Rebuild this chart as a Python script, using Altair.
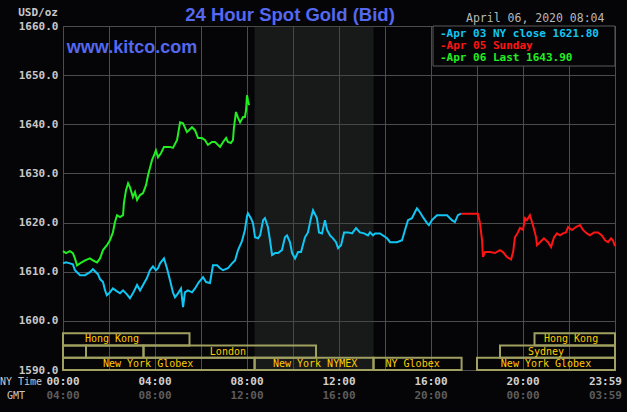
import altair as alt
import pandas as pd

# ---------------- data (hours after 00:00 NY time, USD/oz) ----------------
cyan_h = [0, 0.13, 0.30, 0.43, 0.52, 0.74, 0.96, 1.17, 1.30, 1.52,
          1.61, 1.74, 1.83, 1.91, 2.04, 2.17, 2.35, 2.48, 2.61, 2.78,
          2.91, 3.04, 3.22, 3.35, 3.48, 3.65, 3.78, 3.91, 4.04, 4.13,
          4.22, 4.39, 4.52, 4.65, 4.78, 4.87, 5.00, 5.13, 5.22, 5.30,
          5.43, 5.61, 5.74, 5.91, 6.09, 6.22, 6.39, 6.52, 6.70, 6.83,
          6.96, 7.17, 7.35, 7.48, 7.61, 7.78, 7.91, 8.00, 8.04, 8.17,
          8.26, 8.35, 8.48, 8.57, 8.70, 8.78, 8.91, 9.00, 9.09, 9.22,
          9.35, 9.52, 9.65, 9.74, 9.87, 9.96, 10.09, 10.22, 10.35, 10.52,
          10.65, 10.78, 10.87, 11.04, 11.13, 11.26, 11.39, 11.48, 11.61, 11.74,
          11.87, 11.96, 12.09, 12.22, 12.39, 12.57, 12.74, 12.91, 13.09, 13.26,
          13.35, 13.48, 13.57, 13.78, 14.09, 14.22, 14.52, 14.74, 14.87, 15.00,
          15.17, 15.30, 15.39, 15.52, 15.65, 15.83, 15.91, 16.04, 16.26, 16.48,
          16.70, 16.91, 17.04, 17.17, 17.30]
cyan_p = [1611.7, 1611.9, 1611.7, 1611.5, 1610.3, 1609.3, 1609.3, 1609.9, 1610.5, 1609.5,
          1608.5, 1607.9, 1606.2, 1605.2, 1605.8, 1606.6, 1606.0, 1605.6, 1606.2, 1605.4,
          1604.6, 1605.6, 1607.3, 1606.2, 1607.3, 1608.7, 1610.3, 1611.1, 1610.3, 1610.7,
          1611.7, 1612.7, 1610.7, 1608.3, 1605.8, 1604.8, 1605.6, 1606.6, 1602.8, 1605.8,
          1606.2, 1605.8, 1606.6, 1607.9, 1608.9, 1607.9, 1607.7, 1611.3, 1611.3, 1610.7,
          1610.3, 1610.7, 1611.7, 1612.3, 1614.4, 1616.2, 1618.5, 1621.3, 1621.9, 1620.9,
          1619.9, 1617.0, 1616.8, 1617.4, 1620.5, 1620.9, 1619.1, 1616.4, 1613.4, 1613.8,
          1613.8, 1614.4, 1617.0, 1617.4, 1616.0, 1613.8, 1612.7, 1614.0, 1614.0, 1617.0,
          1618.0, 1620.9, 1622.5, 1620.9, 1618.0, 1617.8, 1620.5, 1618.5, 1617.4, 1616.8,
          1616.0, 1614.8, 1615.4, 1618.0, 1618.0, 1617.8, 1618.9, 1618.0, 1617.8, 1617.4,
          1618.0, 1617.4, 1617.8, 1617.8, 1616.8, 1616.0, 1616.0, 1616.4, 1618.5, 1620.5,
          1620.9, 1622.1, 1622.9, 1622.1, 1621.1, 1619.9, 1619.5, 1620.5, 1621.5, 1621.5,
          1621.5, 1620.5, 1620.1, 1621.5, 1621.8]

red_h = [17.30, 18.04, 18.13, 18.22, 18.26, 18.35, 18.57, 18.78, 19.00, 19.13,
         19.30, 19.48, 19.57, 19.65, 19.78, 19.87, 20.00, 20.09, 20.17, 20.30,
         20.43, 20.57, 20.61, 20.74, 20.91, 21.09, 21.22, 21.35, 21.48, 21.61,
         21.74, 21.87, 21.96, 22.13, 22.30, 22.48, 22.61, 22.78, 22.91, 23.09,
         23.26, 23.43, 23.57, 23.70, 23.83, 23.91, 24.00]
red_p = [1621.8, 1621.8, 1619.9, 1616.4, 1613.0, 1614.0, 1614.0, 1613.8, 1614.4, 1614.0,
         1613.0, 1612.5, 1614.0, 1617.0, 1618.0, 1618.9, 1618.5, 1620.9, 1620.5, 1621.5,
         1619.5, 1617.0, 1615.4, 1616.0, 1616.8, 1616.0, 1615.0, 1617.0, 1617.8, 1617.4,
         1617.8, 1618.0, 1619.1, 1618.5, 1619.1, 1619.5, 1618.5, 1617.8, 1617.4, 1618.0,
         1618.0, 1617.4, 1616.4, 1616.0, 1616.8, 1616.4, 1615.2]

green_h = [0, 0.13, 0.30, 0.43, 0.52, 0.61, 0.74, 0.96, 1.17, 1.30,
           1.48, 1.61, 1.74, 1.91, 2.04, 2.17, 2.26, 2.35, 2.48, 2.61,
           2.65, 2.74, 2.83, 2.91, 3.04, 3.13, 3.22, 3.35, 3.48, 3.61,
           3.70, 3.78, 3.87, 3.96, 4.04, 4.13, 4.26, 4.39, 4.65, 4.78,
           4.96, 5.09, 5.22, 5.39, 5.61, 5.74, 5.87, 6.04, 6.17, 6.30,
           6.48, 6.61, 6.83, 6.96, 7.09, 7.17, 7.30, 7.39, 7.43, 7.52,
           7.61, 7.70, 7.83, 7.91, 7.96, 8.00, 8.04, 8.09]
green_p = [1614.2, 1613.8, 1614.2, 1613.8, 1612.7, 1611.3, 1611.7, 1612.3, 1612.7, 1612.3,
           1611.9, 1612.7, 1614.4, 1615.4, 1616.4, 1618.0, 1620.1, 1621.5, 1621.1, 1621.5,
           1624.0, 1626.6, 1628.0, 1627.2, 1625.2, 1626.2, 1624.6, 1625.6, 1626.0, 1627.6,
           1629.7, 1631.1, 1632.7, 1633.7, 1634.7, 1633.3, 1634.1, 1635.4, 1635.4, 1635.2,
           1636.8, 1640.4, 1640.2, 1638.4, 1639.4, 1638.8, 1637.2, 1637.2, 1636.8, 1635.8,
           1636.4, 1636.4, 1635.4, 1636.4, 1637.2, 1636.4, 1636.2, 1636.8, 1639.2, 1642.5,
           1641.3, 1640.4, 1641.5, 1641.5, 1642.9, 1645.9, 1644.9, 1643.9]

series_names = ["Apr 03 NY close", "Apr 05 Sunday", "Apr 06 Last"]
series_colors = ["#12C6F4", "#FF1414", "#22EE22"]
legend_texts = ["-Apr 03 NY close 1621.80", "-Apr 05 Sunday", "-Apr 06 Last 1643.90"]

# trading sessions (hours, NY time)
band_start = [0, 20.5, 0, 1.0, 3.5, 19.0, 0, 8.33, 13.5, 18.0]
band_end = [5.5, 24, 1.0, 3.5, 11.0, 24, 8.33, 13.5, 17.33, 24]
band_row = [1, 1, 2, 2, 2, 2, 3, 3, 3, 3]
band_label = ["Hong Kong", "Hong Kong", "", "", "London", "Sydney",
              "New York Globex", "New York NYMEX", "NY Globex", "New York Globex"]
band_label_h = [2.13, 22.09, 0.5, 2.25, 7.17, 21.0, 3.7, 10.96, 15.2, 21.0]
row_top = {1: 1597.5, 2: 1595.0, 3: 1592.5}
row_bottom = {1: 1595.0, 2: 1592.5, 3: 1590.0}

shade_start, shade_end = 8.33, 13.5

tick_h = [0, 4, 8, 12, 16, 20]
ny_labels = ["00:00", "04:00", "08:00", "12:00", "16:00", "20:00"]
gmt_labels = ["04:00", "08:00", "12:00", "16:00", "20:00", "00:00"]
last_h = [24]
last_ny = ["23:59"]
last_gmt = ["03:59"]

y_values = [1590, 1600, 1610, 1620, 1630, 1640, 1650, 1660]
x_grid = list(range(0, 25, 2))

# ---------------- build ----------------
MONO = "DejaVu Sans Mono"
SANS = "Liberation Sans"
xs = alt.Scale(domain=[0, 24], nice=False, zero=False)
ys = alt.Scale(domain=[1590, 1660], nice=False, zero=False)
XAX = alt.Axis(values=x_grid, grid=True, gridColor="#4C4C4C", labels=False, ticks=False,
               domain=False, title=None)
YAX = alt.Axis(values=y_values, format=".1f", grid=True, gridColor="#4C4C4C",
               ticks=False, domain=False, title=None, labelPadding=5,
               labelFont=MONO, labelFontSize=11, labelFontWeight="bold", labelColor="#C8C8C8")


def X(f):
    return alt.X(f, scale=xs, axis=XAX)


def Y(f):
    return alt.Y(f, scale=ys, axis=YAX)


lines_df = pd.concat([
    pd.DataFrame({"h": cyan_h, "price": cyan_p, "series": series_names[0], "o": 0}),
    pd.DataFrame({"h": red_h, "price": red_p, "series": series_names[1], "o": 1}),
    pd.DataFrame({"h": green_h, "price": green_p, "series": series_names[2], "o": 2}),
], ignore_index=True)

bands_df = pd.DataFrame({
    "h": band_start, "end": band_end,
    "price": [row_top[r] for r in band_row],
    "bottom": [row_bottom[r] for r in band_row],
    "mid": [(row_top[r] + row_bottom[r]) / 2 for r in band_row],
    "label": band_label, "lh": band_label_h,
})

shade = alt.Chart(pd.DataFrame({"h": [shade_start], "e": [shade_end],
                                "price": [1660], "p2": [1590]})).mark_rect(
    color="#3A423A", opacity=0.35
).encode(x=X("h:Q"), x2="e:Q", y=Y("price:Q"), y2="p2:Q")

band_rects = alt.Chart(bands_df).mark_rect(
    fillOpacity=0, stroke="#A0A060", strokeWidth=2
).encode(x=X("h:Q"), x2="end:Q", y=Y("price:Q"), y2="bottom:Q")

band_text = alt.Chart(bands_df).mark_text(
    font=MONO, fontSize=10, color="#FFCC00", baseline="middle", align="center"
).encode(x=X("lh:Q"), y=Y("mid:Q"), text="label:N")

lines = alt.Chart(lines_df).mark_line(strokeWidth=2).encode(
    x=X("h:Q"), y=Y("price:Q"),
    color=alt.Color("series:N", scale=alt.Scale(domain=series_names, range=series_colors), legend=None),
    order="o:Q",
)

ticks_df = pd.DataFrame({"h": tick_h, "ny": ny_labels, "gmt": gmt_labels})
last_df = pd.DataFrame({"h": last_h, "ny": last_ny, "gmt": last_gmt})


def tick_row(df, field, ypix, color, align="center", dx=0):
    return alt.Chart(df).mark_text(
        font=MONO, fontSize=11, fontWeight="bold", color=color,
        baseline="middle", align=align, dx=dx
    ).encode(x=X("h:Q"), y=alt.value(ypix), text=f"{field}:N")


ny_row = tick_row(ticks_df, "ny", 356, "#D0D0D0")
gmt_row = tick_row(ticks_df, "gmt", 370, "#5C5C5C")
ny_last = tick_row(last_df, "ny", 356, "#D0D0D0", align="right", dx=7)
gmt_last = tick_row(last_df, "gmt", 370, "#5C5C5C", align="right", dx=7)


def label(text, x, y, **kw):
    return alt.Chart(pd.DataFrame({"t": [text]})).mark_text(baseline="middle", **kw).encode(
        x=alt.value(x), y=alt.value(y), text="t:N")


title = label("24 Hour Spot Gold (Bid)", 227, -11, font=SANS, fontSize=18.5,
              fontWeight="bold", color="#5468F0", align="center")
site = label("www.kitco.com", 69, 22, font=SANS, fontSize=18, fontWeight="bold",
             color="#5468F0", align="center")
date = label("April 06, 2020 08:04", 403, -7, font=MONO, fontSize=11.5,
             color="#B8B8B8", align="left")
unit = label("USD/oz", -5, -13, font=MONO, fontSize=11, fontWeight="bold",
             color="#C8C8C8", align="right")
nyt = label("NY Time", -63, 356, font=MONO, fontSize=10, color="#C8C8C8", align="left")
gmt = label("GMT", -47, 370, font=MONO, fontSize=10, color="#C8C8C8", align="center")

legend_box = alt.Chart(pd.DataFrame({"a": [0]})).mark_rect(
    fill="#050507", stroke="#5A5A5A", strokeWidth=1
).encode(x=alt.value(370), x2=alt.value(552), y=alt.value(0), y2=alt.value(40))
legend_rows = [
    label(legend_texts[i], 377, [7.5, 19.5, 32][i], font=MONO, fontSize=11,
          fontWeight="bold", color=series_colors[i], align="left")
    for i in range(3)
]

chart = alt.layer(
    shade, band_rects, band_text, lines,
    ny_row, gmt_row, ny_last, gmt_last,
    title, site, date, unit, nyt, gmt, legend_box, *legend_rows,
).resolve_scale(x="shared", y="shared").properties(
    width=552, height=344,
    autosize=alt.AutoSizeParams(type="none"),
    padding={"left": 63, "top": 26, "right": 12, "bottom": 42},
    background="#050507",
).configure_view(stroke="#5A5A5A", strokeWidth=1)

chart.save("out.html", embed_options={"renderer": "svg", "actions": False})
